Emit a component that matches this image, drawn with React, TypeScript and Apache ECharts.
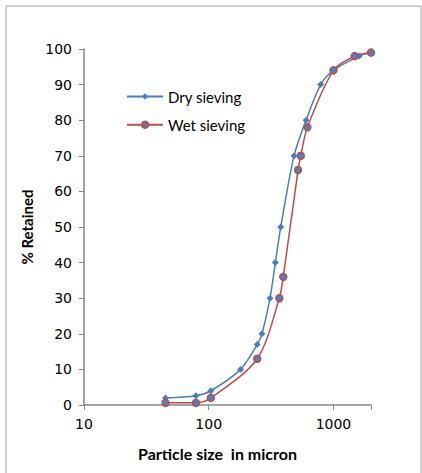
import React, { useEffect, useRef } from "react";
import * as echarts from "echarts";

const drySize = [45, 79, 104, 180, 245, 267, 310, 342, 378, 483, 603, 790, 1000, 1610, 2000];
const dryRetained = [2, 2.6, 4, 10, 17, 20, 30, 40, 50, 70, 80, 90, 94, 98, 99];
const wetSize = [45, 79, 104, 245, 368, 396, 520, 547, 618, 1000, 1480, 2000];
const wetRetained = [0.6, 0.6, 2, 13, 30, 36, 66, 70, 78, 94, 98, 99];
const seriesNames = ["Dry sieving", "Wet sieving"];

export default function App() {
  const ref = useRef<HTMLDivElement>(null);
  useEffect(() => {
    document.body.style.margin = "0";
    const chart = echarts.init(ref.current!, null, { renderer: "svg" });
    const axisColor = "#868686";
    chart.setOption({
      animation: false,
      backgroundColor: "#ffffff",
      grid: { left: 84, top: 49, right: 51, bottom: 68, containLabel: false },
      legend: {
        orient: "vertical",
        left: 121,
        top: 84,
        itemWidth: 36,
        itemHeight: 8,
        itemGap: 13.2,
        textStyle: { fontFamily: "Lato", fontSize: 15, color: "#000" },
        data: seriesNames,
      },
      xAxis: {
        type: "log",
        logBase: 10,
        min: 10,
        max: 2000,
        axisLine: { lineStyle: { color: axisColor, width: 1.5 } },
        axisTick: { show: true, length: 5, inside: false, lineStyle: { color: axisColor } },
        axisLabel: {
          margin: 12,
          fontFamily: "DejaVu Sans",
          fontSize: 14,
          color: "#000",
          formatter: (v: number) => {
            const l = Math.log10(v);
            return Math.abs(l - Math.round(l)) < 1e-6 ? String(Math.round(v)) : "";
          },
        },
        splitLine: { show: false },
      },
      yAxis: {
        type: "value",
        min: 0,
        max: 100,
        interval: 10,
        name: "% Retained",
        nameLocation: "middle",
        nameGap: 46,
        nameRotate: 90,
        nameTextStyle: { fontFamily: "Lato", fontWeight: "bold", fontSize: 15, color: "#000" },
        axisLine: { show: true, lineStyle: { color: axisColor, width: 1.5 } },
        axisTick: { show: true, length: 5, inside: false, lineStyle: { color: axisColor } },
        axisLabel: { margin: 12, fontFamily: "DejaVu Sans", fontSize: 14, color: "#000" },
        splitLine: { show: false },
      },
      graphic: [
        {
          type: "rect",
          shape: { x: 6, y: 6, width: 415, height: 480 },
          style: { fill: "none", stroke: "#a6a6a6", lineWidth: 1 },
          silent: true,
        },
        {
          type: "text",
          x: 217.5,
          y: 453,
          style: {
            text: "Particle size  in micron",
            fontFamily: "Lato",
            fontWeight: "bold",
            fontSize: 16,
            fill: "#000",
            align: "center",
            verticalAlign: "middle",
          },
        },
      ],
      series: [
        {
          name: seriesNames[0],
          type: "line",
          smooth: 0.3,
          data: drySize.map((s, i) => [s, dryRetained[i]]),
          symbol: "diamond",
          symbolSize: 7,
          lineStyle: { color: "#4a7ebb", width: 1.5 },
          itemStyle: { color: "#4a7ebb" },
        },
        {
          name: seriesNames[1],
          type: "line",
          smooth: 0.3,
          data: wetSize.map((s, i) => [s, wetRetained[i]]),
          symbol: "circle",
          symbolSize: 7,
          lineStyle: { color: "#be4b48", width: 1.5 },
          itemStyle: { color: "#4f81bd", borderColor: "#be4b48", borderWidth: 1.5 },
        },
      ],
    });
    return () => chart.dispose();
  }, []);
  return <div ref={ref} style={{ width: 422, height: 473 }} />;
}
